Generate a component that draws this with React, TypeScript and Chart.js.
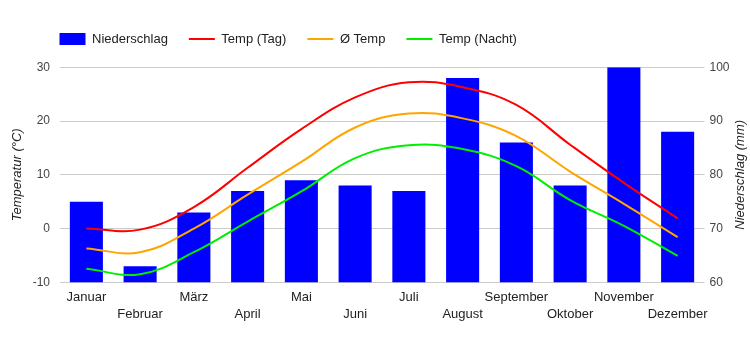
import React, { useEffect, useRef } from "react";
import { Chart, registerables } from "chart.js";

Chart.register(...registerables);

const FONT = "'Liberation Sans', Arial, Helvetica, sans-serif";

const months = [
  "Januar", "Februar", "März", "April", "Mai", "Juni",
  "Juli", "August", "September", "Oktober", "November", "Dezember",
];
const precipitation = [75, 63, 73, 77, 79, 78, 77, 98, 86, 78, 100, 88];
const tempDay = [0, -0.2, 4, 11.3, 18.5, 24.4, 27.2, 26.3, 23, 15.6, 8.5, 1.9];
const tempAvg = [-3.7, -4.4, 0, 6.3, 12.4, 18.8, 21.4, 20.5, 17.2, 10.6, 4.6, -1.6];
const tempNight = [-7.5, -8.5, -4.4, 1.3, 6.9, 13.1, 15.5, 14.8, 11.6, 5.3, 0.5, -5.1];
const tempTicks = { min: -10, max: 30, step: 10 };
const precTicks = { min: 60, max: 100, step: 10 };

const LEGEND_PAD = 21;

const legendShift = {
  id: "legendShift",
  afterLayout(chart: any) {
    const lg = chart.legend;
    if (!lg) return;
    lg.left = chart.chartArea.left - LEGEND_PAD;
    lg.top -= 11.8;
    lg.bottom -= 11.8;
  },
};

const rightTitle = {
  id: "rightTitle",
  afterDraw(chart: any) {
    const { ctx, chartArea } = chart;
    ctx.save();
    ctx.translate(740, (chartArea.top + chartArea.bottom) / 2);
    ctx.rotate(-Math.PI / 2);
    ctx.font = `italic 13px ${FONT}`;
    ctx.fillStyle = "#222";
    ctx.textAlign = "center";
    ctx.textBaseline = "middle";
    ctx.fillText("Niederschlag (mm)", 0, 0);
    ctx.restore();
  },
};

export default function App() {
  const ref = useRef<HTMLCanvasElement | null>(null);

  useEffect(() => {
    if (!ref.current) return;
    const chart = new Chart(ref.current, {
      type: "bar",
      data: {
        labels: months,
        datasets: [
          {
            type: "bar",
            label: "Niederschlag",
            data: precipitation,
            backgroundColor: "#0000ff",
            yAxisID: "y1",
            barPercentage: 0.615,
            categoryPercentage: 1,
            borderWidth: 0,
            order: 1,
          },
          {
            type: "line",
            label: "Temp (Tag)",
            data: tempDay,
            borderColor: "#ff0000",
            backgroundColor: "#ff0000",
            borderWidth: 2,
            pointRadius: 0,
            tension: 0.4,
            fill: false,
            yAxisID: "y",
            order: 0,
          },
          {
            type: "line",
            label: "Ø Temp",
            data: tempAvg,
            borderColor: "#ffa500",
            backgroundColor: "#ffa500",
            borderWidth: 2,
            pointRadius: 0,
            tension: 0.4,
            fill: false,
            yAxisID: "y",
            order: 0,
          },
          {
            type: "line",
            label: "Temp (Nacht)",
            data: tempNight,
            borderColor: "#00ee00",
            backgroundColor: "#00ee00",
            borderWidth: 2,
            pointRadius: 0,
            tension: 0.4,
            fill: false,
            yAxisID: "y",
            order: 0,
          },
        ] as any,
      },
      options: {
        animation: false,
        responsive: true,
        maintainAspectRatio: false,
        events: [],
        layout: { padding: { top: 23.3, left: 0, right: 0, bottom: 0 } },
        plugins: {
          tooltip: { enabled: false },
          legend: {
            position: "top",
            align: "start",
            labels: {
              usePointStyle: true,
              pointStyleWidth: 26,
              boxHeight: 12,
              padding: LEGEND_PAD,
              color: "#222",
              font: { family: FONT, size: 13 },
              sort: (a: any, b: any) => a.datasetIndex - b.datasetIndex,
              generateLabels: (chart: any) => {
                const items = (Chart.defaults.plugins.legend.labels as any).generateLabels(chart);
                items.forEach((it: any) => {
                  const ds = chart.data.datasets[it.datasetIndex];
                  if (ds.type === "bar") {
                    it.pointStyle = "rect";
                    it.fillStyle = ds.backgroundColor;
                    it.lineWidth = 0;
                  } else {
                    it.pointStyle = "line";
                    it.strokeStyle = ds.borderColor;
                    it.lineWidth = 2;
                  }
                });
                return items;
              },
            },
          },
        },
        scales: {
          x: {
            grid: { display: false, drawTicks: false },
            border: { display: false },
            afterFit: (s: any) => { s.height = 67.7; },
            ticks: {
              autoSkip: false,
              maxRotation: 0,
              minRotation: 0,
              padding: 7,
              color: "#222",
              font: { family: FONT, size: 13, lineHeight: 1.3 },
              callback: (_v: any, i: number) => (i % 2 ? ["", months[i]] : months[i]),
            },
          },
          y: {
            position: "left",
            min: tempTicks.min,
            max: tempTicks.max,
            grid: { color: "#cccccc", lineWidth: 1, drawTicks: false },
            border: { display: false },
            afterFit: (s: any) => { s.width = 59.5; },
            ticks: {
              stepSize: tempTicks.step,
              padding: 9.5,
              color: "#444",
              font: { family: FONT, size: 12 },
            },
            title: {
              display: true,
              text: "Temperatur (°C)",
              color: "#222",
              padding: { top: 10, bottom: 0 },
              font: { family: FONT, size: 13, style: "italic" },
            },
          },
          y1: {
            position: "right",
            min: precTicks.min,
            max: precTicks.max,
            grid: { display: false, drawTicks: false },
            border: { display: false },
            afterFit: (s: any) => { s.width = 45.5; },
            ticks: {
              stepSize: precTicks.step,
              padding: 5,
              color: "#444",
              font: { family: FONT, size: 12 },
            },
          },
        },
      },
      plugins: [legendShift, rightTitle],
    } as any);
    return () => chart.destroy();
  }, []);

  return (
    <div style={{ position: "absolute", left: 0, top: 0, width: 750, height: 350 }}>
      <canvas ref={ref} width={750} height={350} />
    </div>
  );
}
